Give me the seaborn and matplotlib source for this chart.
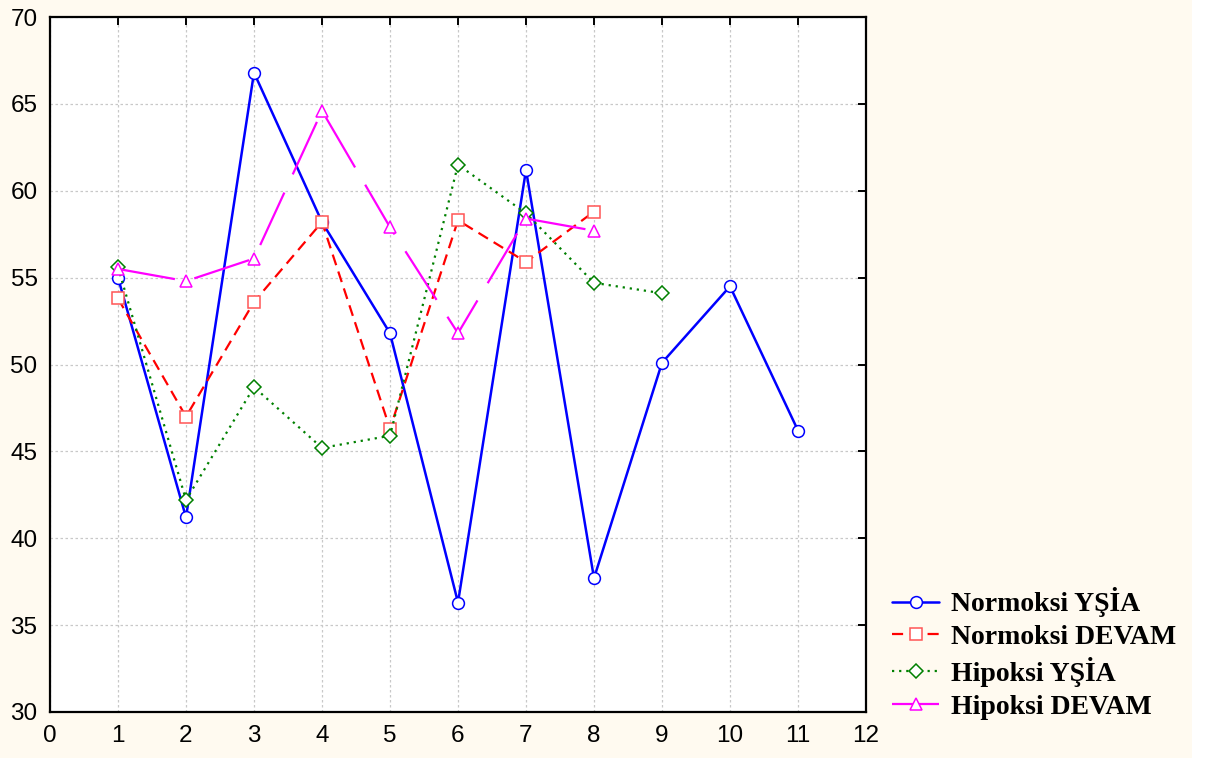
import matplotlib
matplotlib.use('Agg')
import matplotlib.pyplot as plt
from matplotlib.patches import Rectangle
import pandas as pd
import seaborn as sns

#%% Veriler
x_nor_ysia = [1, 2, 3, 4, 5, 6, 7, 8, 9, 10, 11]
nor_ysia = [55.0, 41.2, 66.8, 58.2, 51.8, 36.3, 61.2, 37.7, 50.1, 54.5, 46.2]

x_nor_devam = [1, 2, 3, 4, 5, 6, 7, 8]
nor_devam = [53.8, 47.0, 53.6, 58.2, 46.3, 58.3, 55.9, 58.8]

x_hip_ysia = [1, 2, 3, 4, 5, 6, 7, 8, 9]
hip_ysia = [55.6, 42.2, 48.7, 45.2, 45.9, 61.5, 58.7, 54.7, 54.1]

x_hip_devam = [1, 2, 3, 4, 5, 6, 7, 8]
hip_devam = [55.5, 54.8, 56.1, 64.6, 57.9, 51.8, 58.4, 57.7]

labels = ['Normoksi YŞİA', 'Normoksi DEVAM', 'Hipoksi YŞİA', 'Hipoksi DEVAM']
x_ticks = list(range(0, 13))
y_ticks = [30, 35, 40, 45, 50, 55, 60, 65, 70]

#%% Figür
sns.set_style('white')
plt.rcParams['font.family'] = ['Liberation Sans', 'DejaVu Sans']
plt.rcParams['text.color'] = 'black'

fig = plt.figure(figsize=(12.13, 7.58), dpi=100, facecolor='#fffaf0')
fig.patches.append(Rectangle((1192 / 1213, 0), 1, 1, transform=fig.transFigure,
                             facecolor='white', edgecolor='none', zorder=0))
ax = fig.add_axes([50 / 1213, 1 - 712 / 758, 816 / 1213, 695 / 758])
ax.set_facecolor('white')

series = [
    (x_nor_ysia, nor_ysia, '#0000ff', 'o', '-', '#0000ff'),
    (x_nor_devam, nor_devam, '#ff0000', 's', (0, (5, 3)), '#ff5555'),
    (x_hip_ysia, hip_ysia, '#008000', 'D', (0, (1, 2.2)), '#008000'),
    (x_hip_devam, hip_devam, '#ff00ff', '^', (0, (26, 9)), '#ff00ff'),
]
for (xs, ys, col, mk, ls, mec), lab in zip(series, labels):
    df = pd.DataFrame({'x': xs, 'y': ys})
    sns.lineplot(data=df, x='x', y='y', ax=ax, color=col, linestyle=ls,
                 linewidth=1.6 if mk != 'o' else 1.8, marker=mk,
                 markersize=8.5 if mk != 'D' else 7,
                 markerfacecolor='white', markeredgecolor=mec,
                 markeredgewidth=1.1, label=lab, legend=False)

ax.set_xlim(0, 12)
ax.set_ylim(30, 70)
ax.set_xticks(x_ticks)
ax.set_yticks(y_ticks)
ax.set_xlabel('')
ax.set_ylabel('')
ax.grid(True, color='#c8c8c8', linestyle=(0, (2, 2)), linewidth=0.9)
ax.set_axisbelow(True)
for sp in ax.spines.values():
    sp.set_color('black')
    sp.set_linewidth(1.6)
ax.tick_params(direction='in', length=6, width=1.4, top=True, right=True,
               labelsize=17.5, pad=9, colors='black')

handles, _ = ax.get_legend_handles_labels()
leg = fig.legend(handles, labels, loc='lower left',
                 bbox_to_anchor=(870 / 1213, 1 - 742 / 758),
                 frameon=False, handlelength=1.7, handletextpad=0.4,
                 labelspacing=0.26, borderpad=0.3, labelcolor='black',
                 prop={'family': 'Liberation Serif', 'weight': 'bold', 'size': 20})

fig.savefig('out.png', dpi=100, facecolor=fig.get_facecolor())
